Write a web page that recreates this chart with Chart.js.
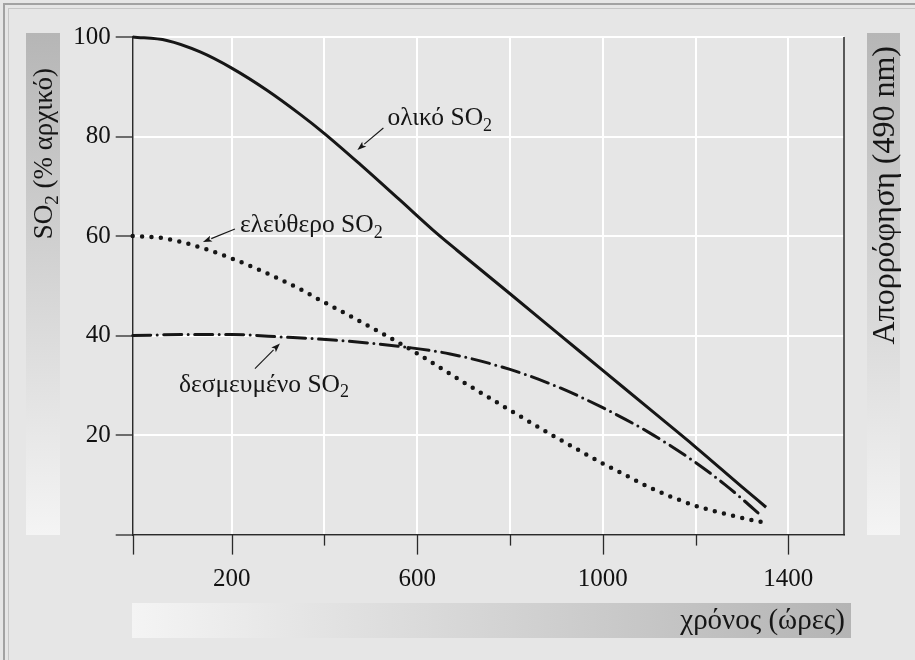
<!DOCTYPE html>
<html><head><meta charset="utf-8">
<script src="https://cdn.jsdelivr.net/npm/chart.js@4"></script>
<style>html,body{margin:0;padding:0;background:#e6e6e6;}canvas{display:block}</style>
</head><body>
<canvas id="c" width="915" height="660"></canvas>
<script>
// ---------------- data ----------------
const totalHours = [-13.4, 60, 132, 201, 276, 347, 400, 477, 563, 634, 685, 800, 900, 1000, 1100, 1200, 1300, 1352];
const totalSO2   = [100, 99.3, 97.0, 93.7, 89.3, 84.5, 80.6, 74.4, 67.2, 61.2, 57.2, 48.4, 40.7, 33.0, 25.3, 17.6, 9.6, 5.5];

const freeHours = [-13.4, 50, 100, 150, 200, 250, 300, 350, 387, 450, 527, 600, 664, 700, 800, 900, 1000, 1050, 1098, 1150, 1210, 1280, 1343];
const freeSO2   = [60, 59.6, 58.6, 57.2, 55.5, 53.6, 51.5, 49.2, 47.3, 44.2, 40.3, 36.4, 32.7, 30.6, 25.0, 19.5, 14.3, 11.9, 9.6, 7.5, 5.5, 3.8, 2.5];

const boundHours = [-13.4, 100, 200, 311, 419, 563, 671, 800, 900, 1000, 1100, 1200, 1264, 1300, 1339];
const boundSO2   = [40, 40.2, 40.2, 39.7, 39.1, 37.8, 36.3, 33.2, 29.8, 25.5, 20.5, 14.5, 10.0, 7.2, 4.0];

const xTickValues = [-13.4, 200, 400, 600, 800, 1000, 1200, 1400];
const xTickLabels = ['', '200', '', '600', '', '1000', '', '1400'];
const yTickValues = [0, 20, 40, 60, 80, 100];
const yTickLabels = ['', '20', '40', '60', '80', '100'];

const seriesNames = ['ολικό SO₂', 'ελεύθερο SO₂', 'δεσμευμένο SO₂'];
const yTitle  = 'SO₂ (% αρχικό)';
const y2Title = 'Απορρόφηση (490 nm)';
const xTitle  = 'χρόνος (ώρες)';

// ---------------- layout / style ----------------
const W = 915, H = 660;
const FAM = '"Liberation Serif", "DejaVu Serif Condensed", "DejaVu Serif", serif';
const INK = '#161616';
const X_MIN = -13.4, X_MAX = 1520;

// annotation layout: arrow tip in data units, tail and text offsets in px
const notes = [
  {series: 0, tip: [471, 77.3], tail: [26, -22], text: [30, -25]},
  {series: 1, tip: [138, 58.8], tail: [32, -13], text: [37, -10]},
  {series: 2, tip: [304, 38.4], tail: [-25, 25], text: [-101, 48]}
];

function drawRich(ctx, text, x, y, size, align) {
  const parts = text.split('₂');
  const main = size + 'px ' + FAM, sub = Math.round(size * 0.7) + 'px ' + FAM;
  const segs = [];
  parts.forEach((p, i) => {
    if (p) segs.push({t: p, f: main, dy: 0});
    if (i < parts.length - 1) segs.push({t: '2', f: sub, dy: size * 0.22});
  });
  let w = 0;
  segs.forEach(s => { ctx.font = s.f; s.w = ctx.measureText(s.t).width; w += s.w; });
  let cx = align === 'right' ? x - w : (align === 'center' ? x - w / 2 : x);
  ctx.textAlign = 'left'; ctx.textBaseline = 'alphabetic';
  segs.forEach(s => { ctx.font = s.f; ctx.fillText(s.t, cx, y + s.dy); cx += s.w; });
  return w;
}

const decor = {
  id: 'decor',
  beforeDraw(chart) {
    const ctx = chart.ctx;
    ctx.save();
    ctx.fillStyle = '#e6e6e6'; ctx.fillRect(0, 0, W, H);
    // frame (top & left)
    ctx.fillStyle = '#a2a2a2';
    ctx.fillRect(3, 3, W - 3, 2); ctx.fillRect(3, 3, 2, H - 3);
    ctx.fillStyle = '#c6c6c6';
    ctx.fillRect(8, 8, W - 8, 1); ctx.fillRect(8, 8, 1, H - 8);
    // vertical gradient bars
    const gv = ctx.createLinearGradient(0, 33, 0, 535);
    gv.addColorStop(0, '#b6b6b6'); gv.addColorStop(1, '#f4f4f4');
    ctx.fillStyle = gv;
    ctx.fillRect(26, 33, 34, 502);
    ctx.fillRect(867, 33, 33, 502);
    // horizontal gradient bar
    const gh = ctx.createLinearGradient(132, 0, 851, 0);
    gh.addColorStop(0, '#f4f4f4'); gh.addColorStop(1, '#b4b4b4');
    ctx.fillStyle = gh;
    ctx.fillRect(132, 603, 719, 35);
    // titles
    ctx.fillStyle = INK;
    ctx.save(); ctx.translate(43, 68); ctx.rotate(-Math.PI / 2);
    drawRich(ctx, yTitle, 0, 9, 27, 'right'); ctx.restore();
    ctx.save(); ctx.translate(884, 46); ctx.rotate(-Math.PI / 2);
    drawRich(ctx, y2Title, 0, 10, 32, 'right'); ctx.restore();
    drawRich(ctx, xTitle, 845, 629, 29, 'right');
    ctx.restore();
  },
  afterDraw(chart) {
    const ctx = chart.ctx, xs = chart.scales.x, ys = chart.scales.y, a = chart.chartArea;
    ctx.save();
    ctx.strokeStyle = '#2a2a2a'; ctx.lineWidth = 1.3;
    // x tick marks: long where labelled
    xTickValues.forEach((v, i) => {
      const px = Math.round(xs.getPixelForValue(v)) + 0.5;
      const len = xTickLabels[i] !== '' || i === 0 ? 20 : 11;
      ctx.beginPath(); ctx.moveTo(px, a.bottom); ctx.lineTo(px, a.bottom + len); ctx.stroke();
    });
    // right border
    ctx.lineWidth = 1.5;
    ctx.beginPath(); ctx.moveTo(a.right, a.top); ctx.lineTo(a.right, a.bottom + 0.7); ctx.stroke();
    // annotations
    ctx.fillStyle = INK; ctx.strokeStyle = INK; ctx.lineWidth = 1.1;
    notes.forEach(n => {
      const tx = xs.getPixelForValue(n.tip[0]), ty = ys.getPixelForValue(n.tip[1]);
      const sx = tx + n.tail[0], sy = ty + n.tail[1];
      const ang = Math.atan2(ty - sy, tx - sx);
      const hl = 9, hw = 3.2;
      const bx = tx - hl * Math.cos(ang), by = ty - hl * Math.sin(ang);
      ctx.beginPath(); ctx.moveTo(sx, sy); ctx.lineTo(bx, by); ctx.stroke();
      ctx.beginPath();
      ctx.moveTo(tx, ty);
      ctx.lineTo(bx + hw * Math.sin(ang), by - hw * Math.cos(ang));
      ctx.lineTo(bx + 2 * Math.cos(ang), by + 2 * Math.sin(ang));
      ctx.lineTo(bx - hw * Math.sin(ang), by + hw * Math.cos(ang));
      ctx.closePath(); ctx.fill();
      drawRich(ctx, seriesNames[n.series], tx + n.text[0], ty + n.text[1], 25.5, 'left');
    });
    ctx.restore();
  }
};

const pts = (xs, ys) => xs.map((x, i) => ({x: x, y: ys[i]}));

new Chart(document.getElementById('c'), {
  type: 'line',
  data: {
    datasets: [
      {label: seriesNames[0], data: pts(totalHours, totalSO2), borderColor: INK, borderWidth: 3,
       pointRadius: 0, cubicInterpolationMode: 'monotone', fill: false, clip: false},
      {label: seriesNames[1], data: pts(freeHours, freeSO2), borderColor: INK, borderWidth: 4.5,
       borderDash: [0, 9.4], borderCapStyle: 'round', pointRadius: 0, cubicInterpolationMode: 'monotone', fill: false, clip: false},
      {label: seriesNames[2], data: pts(boundHours, boundSO2), borderColor: INK, borderWidth: 3,
       borderDash: [18, 6.5, 0, 6.5], borderCapStyle: 'round', pointRadius: 0, cubicInterpolationMode: 'monotone', fill: false, clip: false}
    ]
  },
  options: {
    responsive: false, animation: false, devicePixelRatio: 1,
    layout: {padding: {left: 62.7, top: 37, right: 71, bottom: 65.4}},
    plugins: {legend: {display: false}, tooltip: {enabled: false}},
    scales: {
      x: {
        type: 'linear', min: X_MIN, max: X_MAX,
        afterBuildTicks: s => { s.ticks = xTickValues.map(v => ({value: v})); },
        afterFit: s => { s.height = 60; },
        grid: {color: '#ffffff', lineWidth: 2, drawTicks: false},
        border: {display: true, color: '#2a2a2a', width: 1.5},
        ticks: {callback: (v, i) => xTickLabels[i], padding: 30, color: '#111',
                font: {family: FAM, size: 25}, maxRotation: 0, autoSkip: false}
      },
      y: {
        type: 'linear', min: 0, max: 100,
        afterBuildTicks: s => { s.ticks = yTickValues.map(v => ({value: v})); },
        afterFit: s => { s.width = 70; },
        grid: {color: '#ffffff', lineWidth: 2, drawTicks: true, tickLength: 17, tickColor: '#2a2a2a', tickWidth: 1.3},
        border: {display: true, color: '#2a2a2a', width: 1.5},
        ticks: {callback: (v, i) => yTickLabels[i], padding: 5, color: '#111',
                font: {family: FAM, size: 25}, autoSkip: false}
      }
    }
  },
  plugins: [decor]
});
</script>
</body></html>
